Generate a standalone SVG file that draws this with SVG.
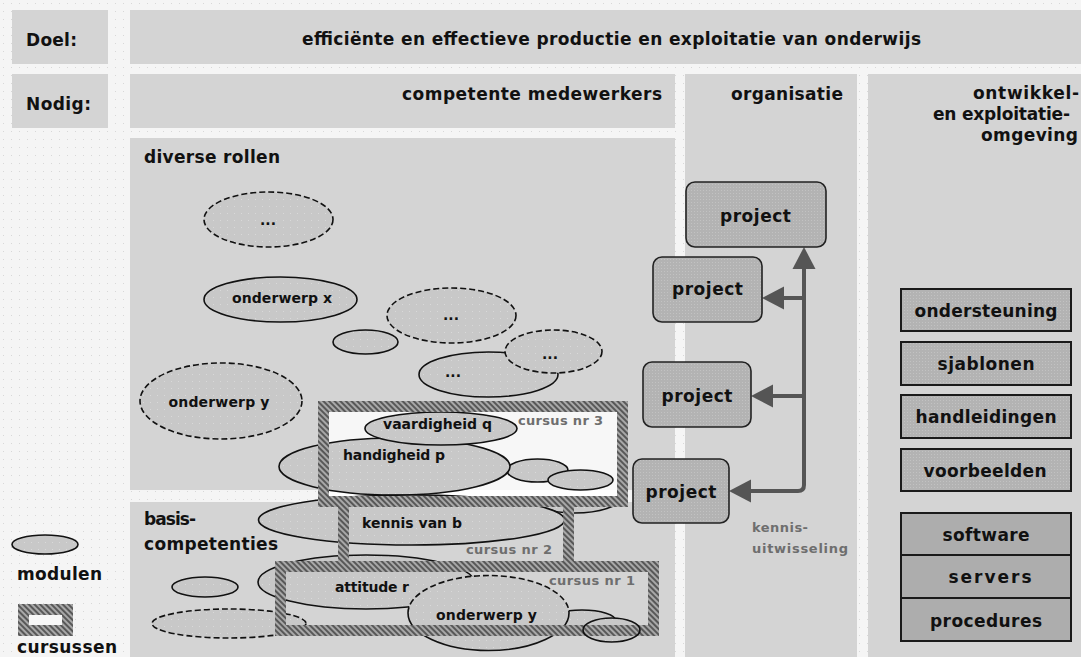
<svg xmlns="http://www.w3.org/2000/svg" width="1081" height="657" viewBox="0 0 1081 657">
<defs>
<pattern id="bgdots" width="8" height="8" patternUnits="userSpaceOnUse"><rect width="8" height="8" fill="#f5f5f5"/><rect x="3" y="3" width="1" height="1" fill="#d8d8d8"/></pattern>
<pattern id="elldots" width="7" height="7" patternUnits="userSpaceOnUse"><rect width="7" height="7" fill="#c8c8c8"/><rect x="3" y="3" width="1" height="1" fill="#d9d9d9"/></pattern>
<pattern id="boxtex" width="3" height="3" patternUnits="userSpaceOnUse"><rect width="3" height="3" fill="#b3b3b3"/><rect x="1" y="1" width="1" height="1" fill="#c2c2c2"/></pattern>
<pattern id="hatch" width="4" height="4" patternUnits="userSpaceOnUse" patternTransform="rotate(-45)"><rect width="4" height="4" fill="#a8a8a8"/><rect width="2" height="4" fill="#585858"/></pattern>
<marker id="ah" markerUnits="userSpaceOnUse" markerWidth="23" markerHeight="24" viewBox="0 0 23 24" refX="18" refY="12" orient="auto-start-reverse"><path d="M0,0.5 L22,12 L0,23.5 z" fill="#555"/></marker>
<style>
.panel{fill:#d4d4d4}
.ell{fill:url(#elldots);stroke:#111;stroke-width:1.6}
.dash{stroke-dasharray:6 3}
.frame{fill:none;stroke:url(#hatch);stroke-width:11}
.proj{fill:url(#boxtex);stroke:#222;stroke-width:1.6}
.res{fill:url(#boxtex);stroke:#1a1a1a;stroke-width:2}
.inf{fill:#adadad;stroke:#1a1a1a;stroke-width:2}
.t{font-family:"DejaVu Sans","Liberation Sans",sans-serif;font-weight:bold;fill:#111}
.h16{font-size:17px}
.l14{font-size:14px}
.g13{font-size:13px;fill:#6e6e6e}
.conn{fill:none;stroke:#555;stroke-width:4}
</style>
</defs>
<rect width="1081" height="657" fill="url(#bgdots)"/>

<g id="doel-label"><rect class="panel" x="12" y="10" width="96" height="54"/><text class="t h16" x="26" y="46" textLength="51">Doel:</text></g>
<g id="doel"><rect class="panel" x="130" y="10" width="951" height="54"/><text class="t h16" x="611.5" y="45" text-anchor="middle" textLength="619">efficiënte en effectieve productie en exploitatie van onderwijs</text></g>
<g id="nodig-label"><rect class="panel" x="12" y="74" width="96" height="54"/><text class="t h16" x="26" y="110" textLength="65">Nodig:</text></g>
<g id="competente-medewerkers"><rect class="panel" x="130" y="74" width="545" height="54"/><text class="t h16" x="402" y="100" textLength="260">competente medewerkers</text></g>
<g id="organisatie"><rect class="panel" x="685" y="74" width="172" height="583"/><text class="t h16" x="731" y="100" textLength="112">organisatie</text></g>
<g id="omgeving"><rect class="panel" x="868" y="74" width="213" height="583"/>
<text class="t h16" x="973" y="99" textLength="106">ontwikkel-</text>
<text class="t h16" x="933" y="120" textLength="137">en exploitatie-</text>
<text class="t h16" x="981" y="141" textLength="97">omgeving</text></g>

<g id="diverse-rollen"><rect class="panel" x="130" y="138" width="545" height="352"/><text class="t h16" x="144" y="163" textLength="136">diverse rollen</text></g>
<g id="basiscompetenties"><rect class="panel" x="130" y="502" width="545" height="155"/><text class="t h16" x="144" y="525" textLength="52">basis-</text><text class="t h16" x="144" y="550" textLength="134">competenties</text></g>

<g id="module-dots1"><ellipse class="ell dash" cx="268.5" cy="219.5" rx="64.5" ry="27.5"/><text class="t l14" x="268" y="225" text-anchor="middle">...</text></g>
<g id="module-onderwerp-x"><ellipse class="ell" cx="280.5" cy="299.5" rx="76.5" ry="22.5"/><text class="t l14" x="282" y="303" text-anchor="middle" textLength="100">onderwerp x</text></g>
<g id="module-dots2"><ellipse class="ell dash" cx="451.5" cy="315.5" rx="64.5" ry="27.5"/><text class="t l14" x="451" y="320" text-anchor="middle">...</text></g>
<g id="module-small1"><ellipse class="ell" cx="365.5" cy="342" rx="32.5" ry="12"/></g>
<g id="module-dots3"><ellipse class="ell" cx="488.5" cy="374.5" rx="69.5" ry="22.5"/><text class="t l14" x="453" y="377" text-anchor="middle">...</text></g>
<g id="module-dots4"><ellipse class="ell dash" cx="553.5" cy="351.5" rx="48.5" ry="21.5"/><text class="t l14" x="550" y="359" text-anchor="middle">...</text></g>
<g id="module-onderwerp-y1"><ellipse class="ell dash" cx="221" cy="401" rx="81" ry="38"/><text class="t l14" x="219" y="407" text-anchor="middle" textLength="101">onderwerp y</text></g>

<g id="module-hidden"><ellipse class="ell" cx="575" cy="498" rx="45" ry="15"/></g>
<g id="cursus-3-bg"><rect x="329" y="412" width="288" height="84" fill="#f7f7f7"/><rect x="329" y="490" width="288" height="6" fill="#ffffff"/></g>
<g id="module-small2"><ellipse class="ell" cx="537.5" cy="470.5" rx="30.5" ry="11.5"/></g>
<g id="module-small3"><ellipse class="ell" cx="580.5" cy="480" rx="32.5" ry="10"/></g>
<g id="module-handigheid-p"><ellipse class="ell" cx="394.5" cy="466.5" rx="115.5" ry="28.5"/><text class="t l14" x="394" y="460" text-anchor="middle" textLength="102">handigheid p</text></g>
<g id="module-vaardigheid-q"><ellipse class="ell" cx="441" cy="428.5" rx="76" ry="16.5"/><text class="t l14" x="437.5" y="429" text-anchor="middle" textLength="109">vaardigheid q</text></g>

<g id="module-kennis-van-b"><ellipse class="ell" cx="411.5" cy="520" rx="153" ry="25"/><text class="t l14" x="412" y="528" text-anchor="middle" textLength="100">kennis van b</text></g>
<g id="module-small4"><ellipse class="ell" cx="205" cy="587" rx="33" ry="10"/></g>
<g id="module-dashed-bottom"><ellipse class="ell dash" cx="229" cy="623.5" rx="77" ry="14.5"/></g>
<g id="module-attitude-r"><ellipse class="ell" cx="366" cy="582" rx="108" ry="27"/><text class="t l14" x="372" y="592" text-anchor="middle" textLength="74">attitude r</text></g>
<g id="module-small5"><ellipse class="ell" cx="582" cy="621" rx="34" ry="11"/></g>
<g id="module-onderwerp-y2"><ellipse cx="488.5" cy="613" rx="80.5" ry="37.5" fill="url(#elldots)"/><path d="M408,613 A80.5,37.5 0 0 1 569,613" fill="none" stroke="#111" stroke-width="1.6" stroke-dasharray="6 3"/><path d="M408,613 A80.5,37.5 0 0 0 569,613" fill="none" stroke="#111" stroke-width="1.6"/><text class="t l14" x="486.5" y="620" text-anchor="middle" textLength="101">onderwerp y</text></g>
<g id="module-small6-fill"><ellipse cx="611.5" cy="630" rx="28.5" ry="12" fill="url(#elldots)"/></g>

<g id="cursus-3"><rect class="frame" x="323.5" y="406.5" width="299" height="95"/><text class="t g13" x="518" y="425" textLength="85">cursus nr 3</text></g>
<g id="cursus-2"><rect class="frame" x="343.5" y="501.5" width="225" height="65"/><text class="t g13" x="466" y="554" textLength="86">cursus nr 2</text></g>
<g id="cursus-1"><rect class="frame" x="280.5" y="566.5" width="373" height="64"/><text class="t g13" x="549" y="585" textLength="86">cursus nr 1</text></g>
<g id="module-small6"><ellipse cx="611.5" cy="630" rx="28.5" ry="12" fill="none" stroke="#111" stroke-width="1.6"/></g>

<g id="legend-modulen"><ellipse class="ell" cx="45" cy="544.5" rx="33" ry="9.5"/><text class="t h16" x="17" y="580" textLength="85">modulen</text></g>
<g id="legend-cursussen"><rect x="23.5" y="609.5" width="44" height="21" fill="#f7f7f7" stroke="url(#hatch)" stroke-width="11"/><text class="t h16" x="17" y="653" textLength="100">cursussen</text></g>

<g id="connectors">
<path class="conn" d="M733,491 H798 Q804,491 804,485 V251" marker-start="url(#ah)" marker-end="url(#ah)"/>
<path class="conn" d="M804,298 H766" marker-end="url(#ah)"/>
<path class="conn" d="M804,396 H755" marker-end="url(#ah)"/>
</g>

<g id="project-1"><rect class="proj" x="686" y="182" width="140" height="65" rx="9"/><text class="t h16" x="755.5" y="222" text-anchor="middle" textLength="71">project</text></g>
<g id="project-2"><rect class="proj" x="653" y="257" width="109" height="65" rx="9"/><text class="t h16" x="707.5" y="295" text-anchor="middle" textLength="71">project</text></g>
<g id="project-3"><rect class="proj" x="643" y="362" width="108" height="65" rx="9"/><text class="t h16" x="697" y="402" text-anchor="middle" textLength="71">project</text></g>
<g id="project-4"><rect class="proj" x="633" y="459" width="96" height="64" rx="9"/><text class="t h16" x="681" y="498" text-anchor="middle" textLength="71">project</text></g>
<g id="kennisuitwisseling-label"><text class="t g13" x="752" y="532" textLength="56">kennis-</text><text class="t g13" x="752" y="553" textLength="96">uitwisseling</text></g>

<g id="ondersteuning"><rect class="res" x="901" y="289" width="170" height="42"/><text class="t h16" x="986" y="317" text-anchor="middle" textLength="143">ondersteuning</text></g>
<g id="sjablonen"><rect class="res" x="901" y="342" width="170" height="43"/><text class="t h16" x="986" y="370" text-anchor="middle" textLength="97">sjablonen</text></g>
<g id="handleidingen"><rect class="res" x="901" y="395" width="170" height="43"/><text class="t h16" x="986" y="423" text-anchor="middle" textLength="141">handleidingen</text></g>
<g id="voorbeelden"><rect class="res" x="901" y="449" width="170" height="42"/><text class="t h16" x="985" y="477" text-anchor="middle" textLength="123">voorbeelden</text></g>
<g id="software"><rect class="inf" x="901" y="513" width="170" height="42"/><text class="t h16" x="986" y="541" text-anchor="middle" textLength="87">software</text></g>
<g id="servers"><rect class="inf" x="901" y="555" width="170" height="43"/><text class="t h16" x="990" y="583" text-anchor="middle" textLength="83">servers</text></g>
<g id="procedures"><rect class="inf" x="901" y="598" width="170" height="43"/><text class="t h16" x="986" y="627" text-anchor="middle" textLength="112">procedures</text></g>
</svg>
